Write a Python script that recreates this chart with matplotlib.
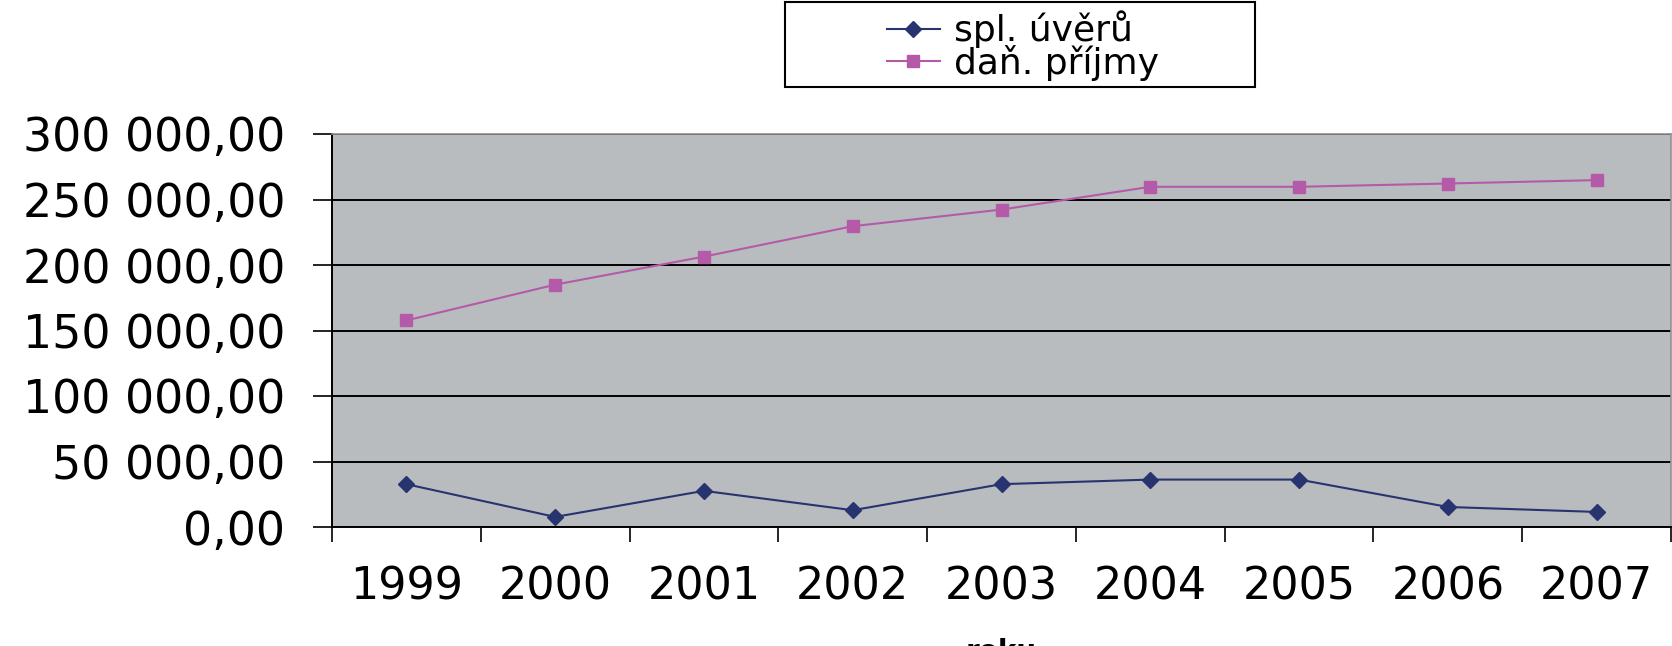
import numpy as np
import matplotlib
matplotlib.use('Agg')
import matplotlib.pyplot as plt
from matplotlib.ticker import FuncFormatter, FixedLocator
from matplotlib.patches import Rectangle

# --------------------------------------------------------------
# Data
# --------------------------------------------------------------
years = ['1999', '2000', '2001', '2002', '2003', '2004', '2005', '2006', '2007']
spl_uveru = [32700, 7700, 27600, 12800, 32700, 36200, 36200, 15300, 11500]
dan_prijmy = [157700, 185000, 206400, 229600, 242300, 259700, 259700, 262200, 264800]
series_labels = ['spl. úvěrů', 'daň. příjmy']
y_ticks = [0, 50000, 100000, 150000, 200000, 250000, 300000]

W, H = 1672, 646
plt.rcParams['font.family'] = ['DejaVu Sans']

fig = plt.figure(figsize=(W / 100, H / 100), dpi=100)
# plot area in pixel terms: x 332..1671, y 134..527
ax = fig.add_axes([332 / W, 1 - 527 / H, (1671 - 332) / W, (527 - 134) / H])
ax.set_facecolor('#b9bcbf')

x = np.arange(len(years))
ax.plot(x, spl_uveru, color='#27346f', lw=1.5, marker='D', ms=8.5,
        label=series_labels[0], zorder=3)
ax.plot(x, dan_prijmy, color='#b45aa9', lw=1.5, marker='s', ms=9,
        label=series_labels[1], zorder=3)

# y axis
ax.set_ylim(0, 300000)
ax.set_yticks(y_ticks)
ax.yaxis.set_major_formatter(FuncFormatter(
    lambda v, p: f'{v:,.2f}'.replace(',', ' ').replace('.', ',')))
ax.tick_params(axis='y', direction='out', length=13.7, width=1.2,
               pad=20, labelsize=33, colors='black')
ax.grid(axis='y', color='black', lw=1.4)
ax.set_axisbelow(True)

# x axis: ticks between categories, labels at centres
ax.set_xlim(-0.5, len(years) - 0.5)
ax.xaxis.set_major_locator(FixedLocator(np.arange(-0.5, len(years), 1.0)))
ax.xaxis.set_major_formatter(FuncFormatter(lambda v, p: ''))
ax.xaxis.set_minor_locator(FixedLocator(x))
ax.set_xticklabels(years, minor=True)
ax.tick_params(axis='x', which='major', direction='out', length=10.8, width=1.2)
ax.tick_params(axis='x', which='minor', length=0, pad=28, labelsize=32)
# axis title sits mostly below the picture edge, as in the original
ax.set_xlabel('roku', fontsize=20, fontweight='bold', labelpad=21)

for side in ('left', 'bottom'):
    ax.spines[side].set_color('black')
    ax.spines[side].set_linewidth(1.4)
for side in ('top', 'right'):
    ax.spines[side].set_color('#8f9294')
    ax.spines[side].set_linewidth(1.2)

# legend: entries + separate rectangular frame like the Excel box
leg = ax.legend(loc='center', bbox_to_anchor=(1023 / W, 1 - 45.5 / H),
                bbox_transform=fig.transFigure, frameon=False, fontsize=26,
                handlelength=1.47, handletextpad=0.39, labelspacing=-0.1,
                borderpad=0)
fig.add_artist(Rectangle((785 / W, 1 - 87 / H), (1255 - 785) / W, 85 / H,
                         transform=fig.transFigure, fill=False,
                         edgecolor='black', lw=1.5))

fig.savefig('out.png', dpi=100)
